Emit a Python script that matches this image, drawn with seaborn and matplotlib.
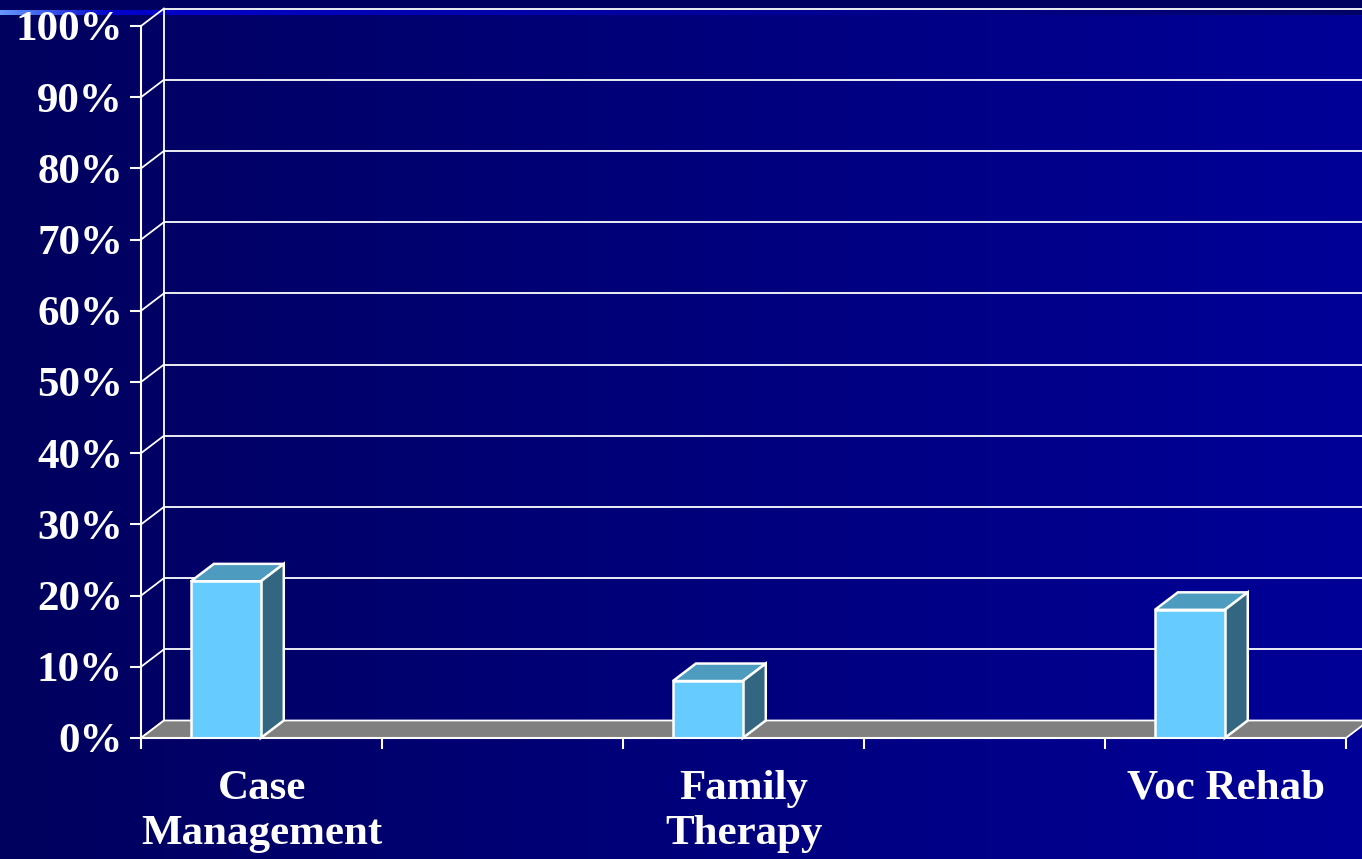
import numpy as np
import matplotlib
matplotlib.use("Agg")
import matplotlib.pyplot as plt
from matplotlib.patches import Polygon
import seaborn as sns
import pandas as pd

# ---- data ----
categories = ["Case\nManagement", "Family\nTherapy", "Voc Rehab"]
values = [22, 8, 18]
ytick_values = [0, 10, 20, 30, 40, 50, 60, 70, 80, 90, 100]
ytick_labels = ["0%", "10%", "20%", "30%", "40%", "50%", "60%", "70%", "80%", "90%", "100%"]

plt.rcParams["font.family"] = ["Liberation Serif", "DejaVu Serif"]
plt.rcParams["font.weight"] = "bold"

W, H = 1362, 859
fig = plt.figure(figsize=(W / 100, H / 100), dpi=100)
fig.patch.set_facecolor("#000060")

# ---- slide background ----
bg = fig.add_axes([0, 0, 1, 1], zorder=0)
img = np.zeros((H, W, 3))
t = np.linspace(0, 1, W)
c_left = np.array([0, 0, 0x5E]) / 255
c_right = np.array([0, 0, 0x98]) / 255
grad = c_left[None, :] * (1 - t[:, None]) + c_right[None, :] * t[:, None]
img[:] = grad[None, :, :]
img[:10] = np.array([0, 0, 0x60]) / 255
xs = np.arange(W)
band = np.zeros((W, 3))
a = np.array([0x66, 0x99, 0xFF]) / 255
b = np.array([0x00, 0x00, 0xCC]) / 255
c = np.array([0x00, 0x00, 0x66]) / 255
m = xs < 110
tt = (xs[m] / 110.0)[:, None]
band[m] = a * (1 - tt) + b * tt
tt2 = ((xs[~m] - 110) / (W - 110.0))[:, None]
band[~m] = b * (1 - tt2) + c * tt2
img[10:15] = band[None, :, :]
bg.imshow(img, aspect="auto", extent=[0, W, H, 0])
bg.set_xlim(0, W)
bg.set_ylim(H, 0)
bg.axis("off")

# ---- chart axes ----
ax = fig.add_axes([141 / W, 121 / H, 1205 / W, 712 / H], zorder=1)
ax.patch.set_alpha(0)

df = pd.DataFrame({"category": categories, "value": values})
sns.barplot(data=df, x="category", y="value", order=categories, color="#66CCFF",
            saturation=1, width=0.145, edgecolor="white", linewidth=1.8,
            ax=ax, zorder=5)
bars = list(ax.patches)

x0, x1 = -0.176, 2.324
ax.set_xlim(x0, x1)
ax.set_ylim(0, 100)
dx = 23 / 482.0
dy = 17.5 / 7.12

white = "white"
# back wall gridlines + side wall diagonals
for v in ytick_values:
    ax.plot([x0 + dx, x1 + dx], [v + dy, v + dy], color=white, lw=1.3,
            clip_on=False, zorder=1)
    ax.plot([x0, x0 + dx], [v, v + dy], color=white, lw=1.3,
            clip_on=False, zorder=1)
ax.plot([x0 + dx, x0 + dx], [dy, 100 + dy], color=white, lw=1.3,
        clip_on=False, zorder=1)

# floor
floor = Polygon([(x0, 0), (x1, 0), (x1 + dx, dy), (x0 + dx, dy)], closed=True,
                facecolor="#808080", edgecolor=white, lw=1.3, clip_on=False, zorder=2)
ax.add_patch(floor)

# 3D sides of bars
for p in bars:
    x, w, h = p.get_x(), p.get_width(), p.get_height()
    top = Polygon([(x, h), (x + w, h), (x + w + dx, h + dy), (x + dx, h + dy)],
                  closed=True, facecolor="#4D9BBE", edgecolor=white, lw=1.8,
                  clip_on=False, zorder=4)
    side = Polygon([(x + w, 0), (x + w + dx, dy), (x + w + dx, h + dy), (x + w, h)],
                   closed=True, facecolor="#336680", edgecolor=white, lw=1.8,
                   clip_on=False, zorder=4)
    ax.add_patch(top)
    ax.add_patch(side)

# axes / ticks
for s in ["top", "right"]:
    ax.spines[s].set_visible(False)
for s in ["left", "bottom"]:
    ax.spines[s].set_color(white)
    ax.spines[s].set_linewidth(1.5)
    ax.spines[s].set_zorder(6)

ax.set_yticks(ytick_values)
ax.set_yticklabels(ytick_labels)
ax.tick_params(axis="y", colors=white, length=8, width=1.5, direction="out",
               pad=5, labelsize=31)

label_shift = 36 / 482.0
ax.set_xticks([i + label_shift for i in range(len(categories))])
ax.set_xticklabels(categories)
ax.set_xticks(np.arange(x0, x1 + 1e-6, 0.5), minor=True)
ax.tick_params(axis="x", which="major", length=0, colors=white, labelsize=31, pad=23)
ax.tick_params(axis="x", which="minor", length=8, width=1.5, color=white, direction="out")
for lbl in ax.get_xticklabels():
    lbl.set_linespacing(1.25)
ax.set_xlabel("")
ax.set_ylabel("")
ax.grid(False)

fig.savefig("out.png", dpi=100, facecolor=fig.get_facecolor())
